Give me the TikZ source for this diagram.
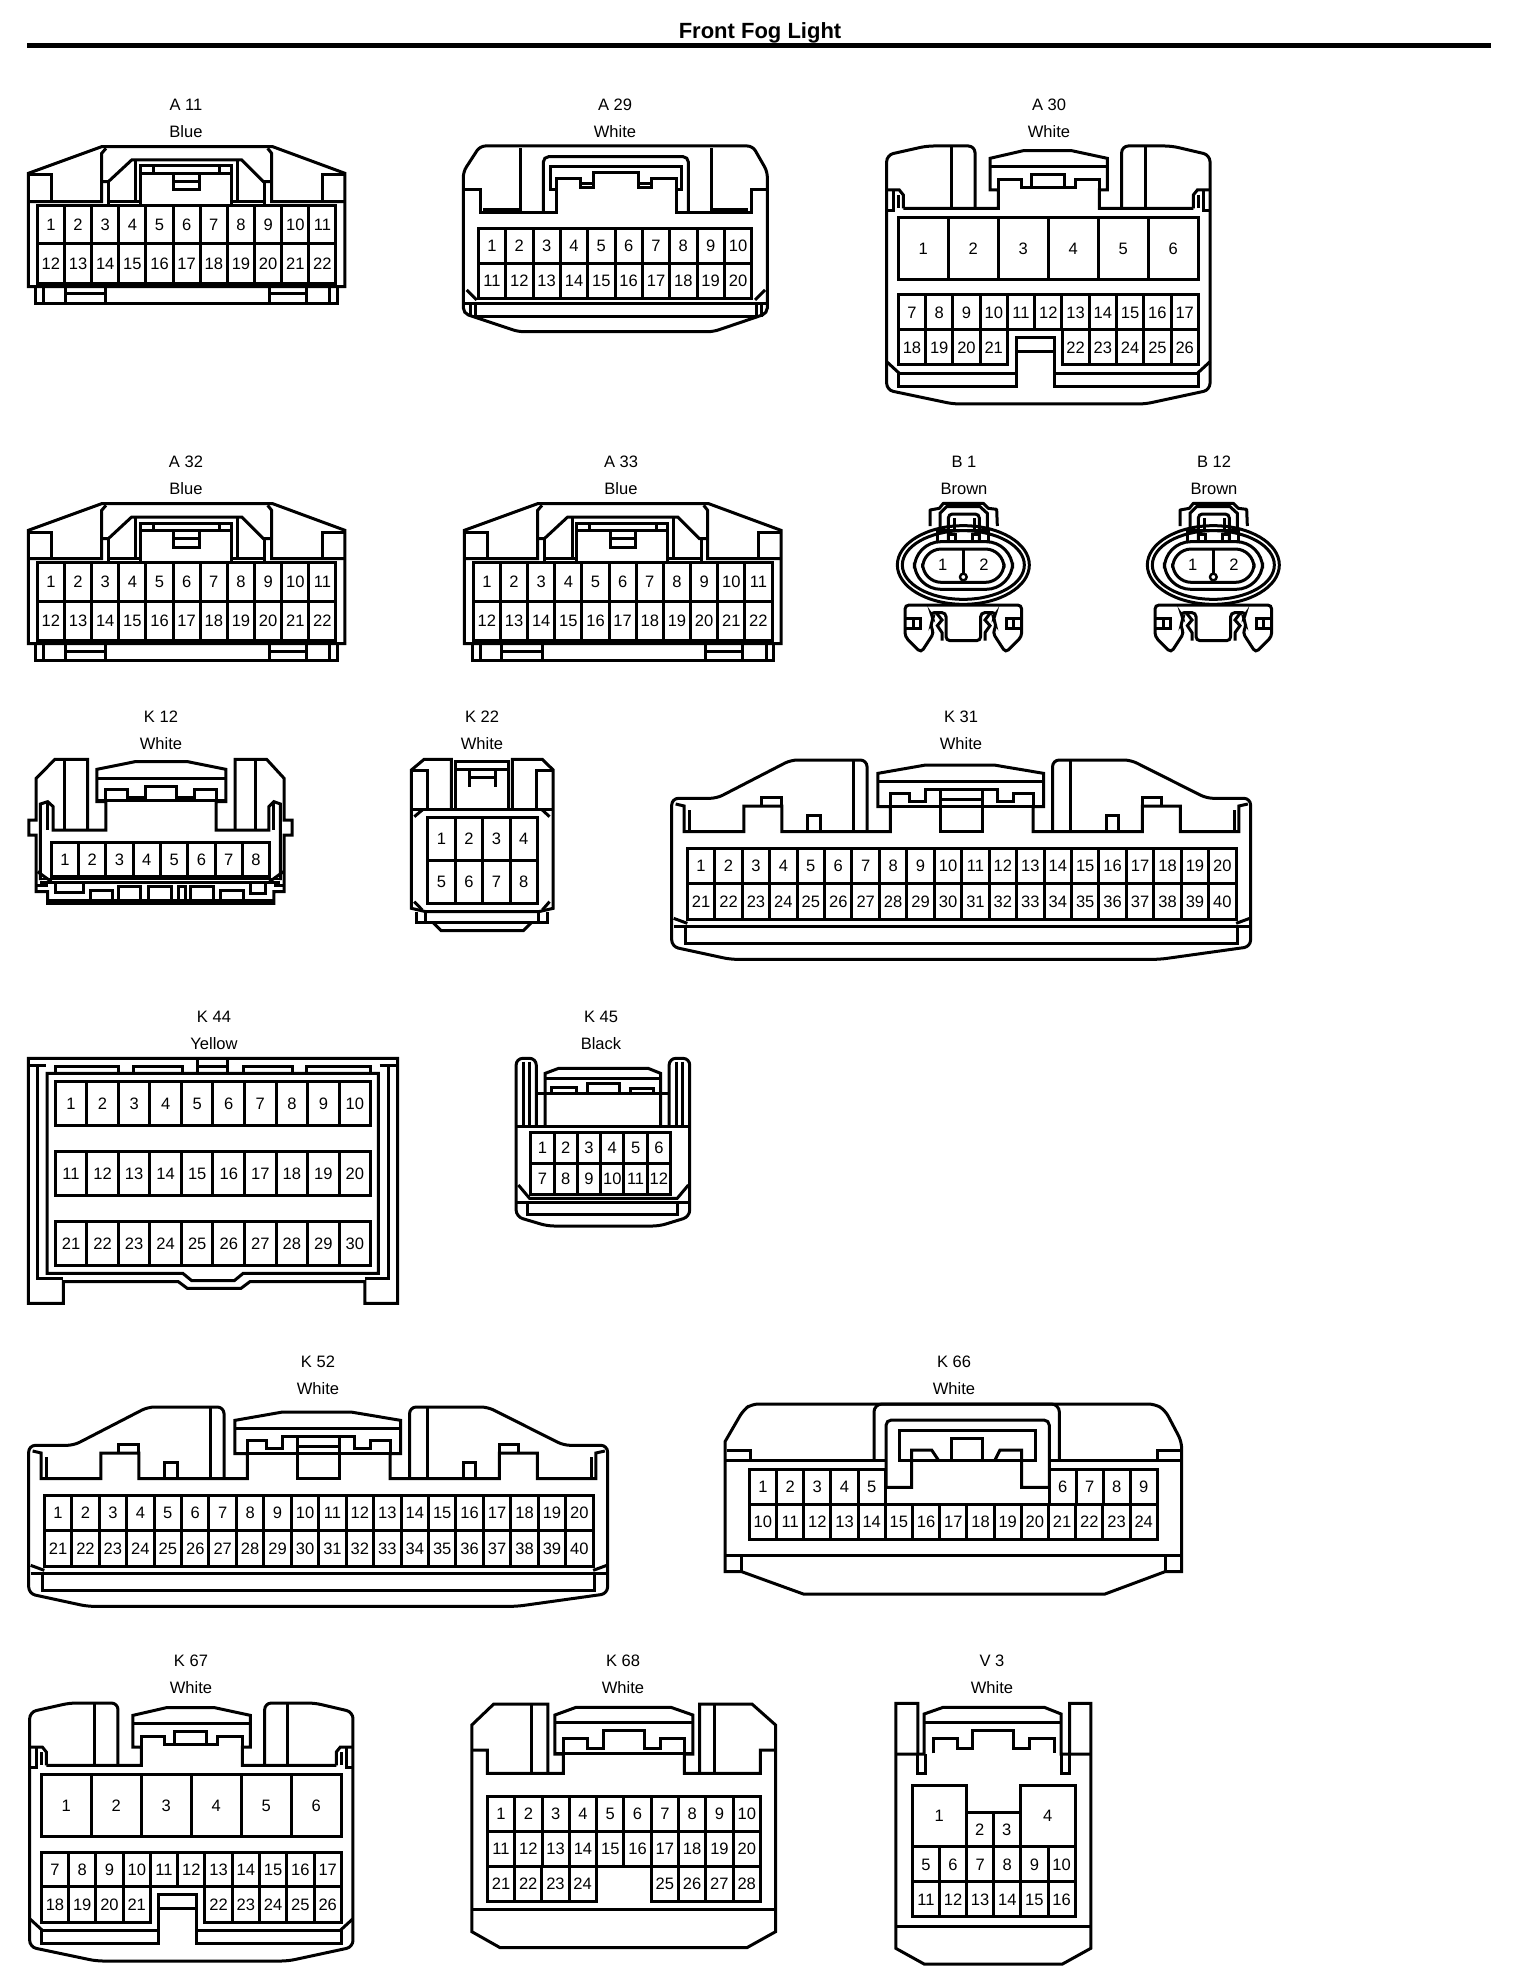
\documentclass[tikz,border=0pt]{standalone}
\usepackage{fontspec}
\setmainfont{Liberation Sans}
\tikzset{
	wall/.style={draw, line width=2.25pt, line join=miter},
	cavnum/.style={font=\fontsize{12.4}{14}\selectfont, inner sep=0pt, text height=8.9pt, text depth=0pt},
	capname/.style={font=\fontsize{12.4}{14}\selectfont, inner sep=0pt, text height=9pt, text depth=2.6pt},
	headline/.style={font=\bfseries\fontsize{16.5}{18}\selectfont, inner sep=0pt},
	headrule/.style={draw, line width=4pt}
}
% one cavity: name, x0, y0, x1, y1, number
\newcommand{\cavcell}[6]{
	\draw[wall] (#2,#3) rectangle (#4,#5);
	\node[cavnum] (#1-#6) at ({(#2+#4)/2},{(#3+#5)/2}) {#6};
}
% row of cavities: name, x0, y0, x1, y1, first number, count
\newcommand{\cavrow}[7]{
	\foreach \i in {1,...,#7} {
		\pgfmathsetmacro{\xa}{#2+(\i-1)*((#4-#2)/#7)}
		\pgfmathsetmacro{\xb}{#2+\i*((#4-#2)/#7)}
		\pgfmathtruncatemacro{\num}{#6+\i-1}
		\cavcell{#1}{\xa}{#3}{\xb}{#5}{\num}
	}
}
% two caption lines: name, x, y, code, colour
\newcommand{\conncap}[5]{
	\node[capname] (#1-code) at (#2,#3) {#4};
	\node[capname] (#1-colour) at (#2,#3+27) {#5};
}
% 22 way housing
\newcommand{\housingW}[3]{
	\begin{scope}[shift={(#2,#3)}, scale=1/3]
		\draw[wall] (85,860) -- (85,520) -- (305,440) -- (818,440) -- (1035,520) -- (1035,860) -- cycle;
		\draw[wall] (85,605) -- (305,605) -- (305,460) -- (318,445);
		\draw[wall] (1035,605) -- (815,605) -- (815,460) -- (803,445);
		\draw[wall] (88,525) -- (155,525) -- (155,605);
		\draw[wall] (1032,525) -- (968,525) -- (968,605);
		\draw[wall] (305,545) -- (325,545) -- (395,480) -- (725,480) -- (790,545) -- (815,545);
		\draw[wall] (325,545) -- (325,612);
		\draw[wall] (795,545) -- (795,612);
		\draw[wall] (408,480) -- (408,605);
		\draw[wall] (712,480) -- (712,605);
		\draw[wall] (330,605) -- (420,605);
		\draw[wall] (700,605) -- (795,605);
		\draw[wall] (422,612) -- (422,498) -- (695,498) -- (695,612);
		\draw[wall] (422,520) -- (695,520);
		\draw[wall] (460,498) -- (460,520);
		\draw[wall] (660,498) -- (660,520);
		\draw[wall] (522,520) -- (522,570) -- (598,570) -- (598,520);
		\draw[wall] (522,545) -- (598,545);
		\cavrow{#1}{112}{617}{1008}{732}{1}{11}
		\cavrow{#1}{112}{732}{1008}{850}{12}{11}
		\draw[wall] (108,860) -- (108,910) -- (1012,910) -- (1012,860);
		\draw[wall] (132,860) -- (132,908);
		\draw[wall] (990,860) -- (990,908);
		\draw[wall] (197,860) -- (197,908);
		\draw[wall] (318,860) -- (318,908);
		\draw[wall] (808,860) -- (808,908);
		\draw[wall] (920,860) -- (920,908);
		\draw[wall] (197,882) -- (318,882);
		\draw[wall] (808,882) -- (920,882);
	\end{scope}
}
% 26 way housing with six big cavities
\newcommand{\housingP}[3]{
	\begin{scope}[shift={(#2,#3)}, scale=1/3]
		\draw[wall, rounded corners=5pt] (345,385) -- (345,198) -- (200,198) -- (80,225) -- (80,930) -- (280,972) -- (855,972) -- (1050,930) -- (1050,225) -- (935,198) -- (785,198) -- (785,385);
		\draw[wall] (275,200) -- (275,385);
		\draw[wall] (855,200) -- (855,385);
		\draw[wall] (130,385) -- (415,385) -- (415,330) -- (390,330) -- (390,235) -- (490,212) -- (635,212) -- (742,235) -- (742,330) -- (718,330) -- (718,385) -- (1000,385);
		\draw[wall] (390,260) -- (742,260);
		\draw[wall] (415,330) -- (415,298) -- (485,298) -- (485,322) -- (645,322) -- (645,298) -- (718,298) -- (718,330);
		\draw[wall] (515,322) -- (515,283) -- (612,283) -- (612,322);
		\draw[wall] (80,330) -- (118,330) -- (130,345) -- (130,385);
		\draw[wall] (1050,330) -- (1012,330) -- (1000,345) -- (1000,385);
		\draw[wall] (100,330) -- (100,392) -- (80,392);
		\draw[wall] (1030,330) -- (1030,392) -- (1050,392);
		\draw[wall] (115,345) -- (115,385);
		\draw[wall] (1015,345) -- (1015,385);
		\cavrow{#1}{115}{412}{1015}{598}{1}{6}
		\cavrow{#1}{115}{645}{1015}{748}{7}{11}
		\cavrow{#1}{115}{748}{442}{855}{18}{4}
		\cavrow{#1}{606}{748}{1015}{855}{22}{5}
		\draw[wall] (468,855) -- (468,772) -- (582,772) -- (582,855);
		\draw[wall] (468,815) -- (582,815);
		\draw[wall] (468,850) -- (468,920) -- (115,920) -- (115,880) -- (468,880);
		\draw[wall] (582,850) -- (582,920) -- (1015,920) -- (1015,880) -- (582,880);
		\draw[wall] (80,845) -- (118,880);
		\draw[wall] (1050,845) -- (1012,880);
	\end{scope}
}
% 2 way round housing
\newcommand{\housingO}[3]{
	\begin{scope}[shift={(#2,#3)}, scale=1/3]
		\draw[wall, fill=white] (310,345) ellipse [x radius=198, y radius=118];
		\draw[wall] (310,345) ellipse [x radius=183, y radius=103];
		\draw[wall, rounded corners=20pt] (163,275) rectangle (458,418);
		\draw[wall, rounded corners=14pt] (188,297) rectangle (432,397);
		\draw[wall, line width=1.8pt] (310,300) -- (310,370);
		\draw[wall, line width=1.8pt] (310,381) circle [radius=10];
		\node[cavnum] (#1-1) at (248,345) {1};
		\node[cavnum] (#1-2) at (372,345) {2};
		\draw[wall, line join=round] (210,228) -- (210,180) -- (238,175) -- (250,160) -- (370,160) -- (385,175) -- (410,178) -- (412,228);
		\draw[wall] (240,235) -- (240,190) -- (260,170) -- (360,170) -- (382,190) -- (382,235);
		\draw[wall, rounded corners=3pt] (265,272) -- (265,192) -- (358,192) -- (358,272);
		\draw[wall] (282,205) -- (282,242) -- (342,242) -- (342,205);
		\draw[wall] (232,275) -- (232,242) -- (385,242) -- (385,275);
		\draw[wall] (265,252) -- (285,252) -- (285,272);
		\draw[wall] (358,252) -- (337,252) -- (337,272);
		\draw[wall, fill=white, rounded corners=3pt] (135,560) -- (135,465) -- (485,465) -- (485,560) -- (437,608) -- (398,548) -- (410,525) -- (398,505) -- (410,488) -- (362,488) -- (362,572) -- (258,572) -- (258,488) -- (210,488) -- (222,505) -- (210,525) -- (222,548) -- (183,608) -- cycle;
		\draw[wall] (230,490) -- (246,510) -- (232,527) -- (246,548) -- (246,572);
		\draw[wall] (390,490) -- (375,510) -- (390,527) -- (375,548) -- (375,572);
		\draw[wall] (137,505) -- (180,505) -- (180,535) -- (137,535);
		\draw[wall] (160,505) -- (160,535);
		\draw[wall] (483,505) -- (440,505) -- (440,535) -- (483,535);
		\draw[wall] (460,505) -- (460,535);
	\end{scope}
}
% 40 way housing
\newcommand{\housingL}[3]{
	\begin{scope}[shift={(#2,#3)}, xscale=1/2.56, yscale=1/3]
		\draw[wall, rounded corners=5pt] (530,305) -- (530,90) -- (335,90) -- (145,205) -- (30,205) -- (30,650) -- (180,688) -- (1280,688) -- (1512,650) -- (1512,205) -- (1400,205) -- (1205,90) -- (1005,90) -- (1005,305);
		\draw[wall] (495,90) -- (495,305);
		\draw[wall] (1050,90) -- (1050,305);
		\draw[wall] (40,222) -- (62,228) -- (62,305) -- (215,305) -- (215,228) -- (312,228) -- (312,305) -- (590,305) -- (590,230) -- (558,230) -- (558,130) -- (680,105) -- (855,105) -- (982,130) -- (982,230) -- (955,230) -- (955,305) -- (1235,305) -- (1235,228) -- (1332,228) -- (1332,305) -- (1482,305) -- (1482,228) -- (1505,222);
		\draw[wall] (75,240) -- (75,300);
		\draw[wall] (1470,240) -- (1470,300);
		\draw[wall] (260,228) -- (260,202) -- (312,202) -- (312,228);
		\draw[wall] (1235,228) -- (1235,202) -- (1285,202) -- (1285,228);
		\draw[wall] (378,305) -- (378,255) -- (412,255) -- (412,305);
		\draw[wall] (1142,305) -- (1142,255) -- (1175,255) -- (1175,305);
		\draw[wall] (558,155) -- (982,155);
		\draw[wall] (558,228) -- (982,228);
		\draw[wall] (590,228) -- (590,190) -- (640,190) -- (640,215) -- (680,215) -- (680,178) -- (865,178) -- (865,215) -- (905,215) -- (905,190) -- (955,190) -- (955,228);
		\draw[wall] (718,178) -- (718,305) -- (825,305) -- (825,178);
		\draw[wall] (718,208) -- (825,208);
		\cavrow{#1}{70}{355}{1475}{460}{1}{20}
		\cavrow{#1}{70}{460}{1475}{568}{21}{20}
		\draw[wall] (35,565) -- (70,580);
		\draw[wall] (1510,565) -- (1475,580);
		\draw[wall] (35,590) -- (1510,590);
		\draw[wall] (65,595) -- (65,640) -- (1478,640) -- (1478,595);
	\end{scope}
}
\begin{document}
\begin{tikzpicture}[x=.75pt, y=-.75pt]
	\useasboundingbox (0,0) rectangle (1520,1980);
	
	\node[headline] (title) at (760,33) {Front Fog Light};
	\coordinate (ruleL) at (27,45.3);
	\coordinate (ruleR) at (1491,45.3);
	\draw[headrule] (ruleL) -- (ruleR);
	
	%========================================================================
	% Captions
	\conncap{A11}{186}{106}{A 11}{Blue}
	\conncap{A29}{615}{106}{A 29}{White}
	\conncap{A30}{1049}{106}{A 30}{White}
	\conncap{A32}{186}{463}{A 32}{Blue}
	\conncap{A33}{621}{463}{A 33}{Blue}
	\conncap{B1}{964}{463}{B 1}{Brown}
	\conncap{B12}{1214}{463}{B 12}{Brown}
	\conncap{K12}{161}{718}{K 12}{White}
	\conncap{K22}{482}{718}{K 22}{White}
	\conncap{K31}{961}{718}{K 31}{White}
	\conncap{K44}{214}{1018}{K 44}{Yellow}
	\conncap{K45}{601}{1018}{K 45}{Black}
	\conncap{K52}{318}{1363}{K 52}{White}
	\conncap{K66}{954}{1363}{K 66}{White}
	\conncap{K67}{191}{1662}{K 67}{White}
	\conncap{K68}{623}{1662}{K 68}{White}
	\conncap{V3}{992}{1662}{V 3}{White}
	
	%========================================================================
	% Housings drawn more than once
	\housingW{A11}{0}{0}
	\housingW{A32}{0}{357}
	\housingW{A33}{436}{357}
	\housingP{A30}{860}{80}
	\housingP{K67}{3}{1637}
	\housingO{B1}{860}{450}
	\housingO{B12}{1110}{450}
	\housingL{K31}{660}{730}
	\housingL{K52}{17}{1377}
	
	%========================================================================
	% A 29
	\begin{scope}[shift={(450,130)}, scale=1/3]
		\draw[wall, rounded corners=4pt] (40,125) -- (90,48) -- (908,48) -- (952,125) -- (952,550) -- (790,605) -- (205,605) -- (40,550) -- cycle;
		\draw[wall] (40,178) -- (92,178) -- (92,248) -- (318,248) -- (318,145) -- (390,145) -- (390,172) -- (430,172) -- (430,128) -- (565,128) -- (565,172) -- (605,172) -- (605,145) -- (678,145) -- (678,248) -- (905,248) -- (905,178) -- (952,178);
		\draw[wall] (212,55) -- (212,248);
		\draw[wall] (785,55) -- (785,248);
		\draw[wall] (100,240) -- (212,240);
		\draw[wall] (785,240) -- (893,240);
		\draw[wall, rounded corners=4pt] (280,248) -- (280,80) -- (715,80) -- (715,248);
		\draw[wall] (318,178) -- (300,178) -- (300,110) -- (695,110) -- (695,178) -- (678,178);
		\draw[wall] (390,160) -- (430,160);
		\draw[wall] (565,160) -- (605,160);
		\cavrow{A29}{85}{295}{905}{400}{1}{10}
		\cavrow{A29}{85}{400}{905}{505}{11}{10}
		\draw[wall] (50,480) -- (80,510);
		\draw[wall] (945,480) -- (915,510);
		\draw[wall] (42,520) -- (950,520);
		\draw[wall] (75,525) -- (75,560) -- (920,560) -- (920,525);
		\draw[wall] (60,525) -- (60,560);
		\draw[wall] (935,525) -- (935,560);
	\end{scope}
	
	%========================================================================
	% K 12 and K 22
	\begin{scope}[shift={(15,700)}, xscale=1/2.75, yscale=1/3]
		\draw[wall] (200,390) -- (200,178) -- (110,178) -- (58,235) -- (58,360) -- (38,360) -- (38,405) -- (58,405) -- (58,575) -- (90,575) -- (90,610) -- (712,610) -- (712,575) -- (740,575) -- (740,405) -- (762,405) -- (762,360) -- (740,360) -- (740,235) -- (692,178) -- (605,178) -- (605,390);
		\draw[wall] (135,178) -- (135,390);
		\draw[wall] (662,178) -- (662,390);
		\draw[wall] (70,540) -- (70,312) -- (90,305) -- (105,320) -- (105,390) -- (250,390) -- (250,305) -- (225,305) -- (225,208) -- (330,185) -- (475,185) -- (580,208) -- (580,305) -- (553,305) -- (553,390) -- (698,390) -- (698,320) -- (712,305) -- (730,312) -- (730,540);
		\draw[wall] (88,310) -- (88,390);
		\draw[wall] (712,310) -- (712,390);
		\draw[wall] (225,235) -- (580,235);
		\draw[wall] (225,302) -- (580,302);
		\draw[wall] (250,302) -- (250,268) -- (310,268) -- (310,292) -- (358,292) -- (358,258) -- (445,258) -- (445,292) -- (493,292) -- (493,268) -- (553,268) -- (553,302);
		\cavrow{K12}{100}{428}{700}{530}{1}{8}
		\draw[wall] (62,515) -- (100,545);
		\draw[wall] (738,515) -- (700,545);
		\draw[line width=1.2pt] (70,537) -- (730,537);
		\draw[wall] (70,547) -- (730,547);
		\draw[wall] (60,555) -- (90,555);
		\draw[wall] (712,555) -- (738,555);
		\draw[wall] (90,600) -- (712,600);
		\draw[wall] (112,550) -- (112,578) -- (188,578) -- (188,550);
		\draw[wall] (208,600) -- (208,570) -- (268,570) -- (268,600);
		\draw[wall] (285,600) -- (285,558) -- (345,558) -- (345,600);
		\draw[wall] (368,600) -- (368,558) -- (430,558) -- (430,600);
		\draw[wall] (450,600) -- (450,558) -- (470,558) -- (470,600);
		\draw[wall] (482,600) -- (482,558) -- (545,558) -- (545,600);
		\draw[wall] (565,600) -- (565,570) -- (628,570) -- (628,600);
		\draw[wall] (648,550) -- (648,580) -- (690,580) -- (690,550);
		
		\draw[wall] (1200,325) -- (1200,178) -- (1125,178) -- (1090,210) -- (1090,625) -- (1130,635) -- (1440,635) -- (1480,625) -- (1480,210) -- (1450,178) -- (1368,178) -- (1368,325);
		\draw[wall] (1092,212) -- (1135,212) -- (1135,325);
		\draw[wall] (1478,212) -- (1435,212) -- (1435,325);
		\draw[wall] (1210,325) -- (1210,185) -- (1358,185) -- (1358,325);
		\draw[wall] (1210,208) -- (1358,208);
		\draw[wall] (1250,208) -- (1250,262);
		\draw[wall] (1320,208) -- (1320,262);
		\draw[wall] (1250,232) -- (1320,232);
		\draw[wall] (1090,328) -- (1480,328);
		\draw[wall] (1098,350) -- (1120,330);
		\draw[wall] (1470,350) -- (1450,330);
		\draw[wall] (1098,605) -- (1120,630);
		\draw[wall] (1470,605) -- (1450,630);
		\cavrow{K22}{1135}{352}{1437}{480}{1}{4}
		\cavrow{K22}{1135}{480}{1437}{610}{5}{4}
		\draw[wall] (1105,635) -- (1105,668) -- (1465,668) -- (1465,635);
		\draw[wall] (1130,635) -- (1130,668);
		\draw[wall] (1440,635) -- (1440,668);
		\draw[wall] (1150,668) -- (1172,692) -- (1398,692) -- (1420,668);
	\end{scope}
	
	%========================================================================
	% K 44 and K 45
	\begin{scope}[shift={(15,1040)}, xscale=1/2.235, yscale=1/3]
		\draw[wall] (30,55) -- (855,55) -- (855,790) -- (782,790) -- (782,725) -- (525,725) -- (505,745) -- (385,745) -- (365,725) -- (108,725) -- (108,790) -- (30,790) -- cycle;
		\draw[wall] (30,75) -- (70,75);
		\draw[wall] (815,75) -- (855,75);
		\draw[wall] (50,75) -- (50,720);
		\draw[wall] (835,75) -- (835,720);
		\draw[wall] (50,716) -- (108,716);
		\draw[wall] (782,716) -- (835,716);
		\draw[wall] (72,100) -- (812,100) -- (812,700) -- (510,700) -- (490,722) -- (395,722) -- (375,700) -- (72,700) -- cycle;
		\draw[wall] (90,100) -- (90,78) -- (232,78) -- (232,100);
		\draw[wall] (265,100) -- (265,78) -- (375,78) -- (375,100);
		\draw[wall] (408,100) -- (408,60);
		\draw[wall] (475,100) -- (475,60);
		\draw[wall] (408,78) -- (475,78);
		\draw[wall] (510,100) -- (510,78) -- (620,78) -- (620,100);
		\draw[wall] (652,100) -- (652,78) -- (795,78) -- (795,100);
		\cavrow{K44}{90}{125}{795}{255}{1}{10}
		\cavrow{K44}{90}{335}{795}{465}{11}{10}
		\cavrow{K44}{90}{545}{795}{675}{21}{10}
		
		\draw[wall, rounded corners=5pt] (1165,255) -- (1165,55) -- (1120,55) -- (1120,530) -- (1190,558) -- (1440,558) -- (1508,530) -- (1508,55) -- (1462,55) -- (1462,255);
		\draw[wall] (1137,65) -- (1137,258);
		\draw[wall] (1150,65) -- (1150,258);
		\draw[wall] (1478,65) -- (1478,258);
		\draw[wall] (1492,65) -- (1492,258);
		\draw[wall] (1120,258) -- (1508,258);
		\draw[wall] (1185,258) -- (1185,100) -- (1215,85) -- (1415,85) -- (1443,100) -- (1443,258);
		\draw[wall] (1185,115) -- (1443,115);
		\draw[wall] (1165,160) -- (1462,160);
		\draw[wall] (1200,160) -- (1200,142) -- (1255,142) -- (1255,160);
		\draw[wall] (1280,160) -- (1280,130) -- (1350,130) -- (1350,160);
		\draw[wall] (1375,160) -- (1375,145) -- (1428,145) -- (1428,160);
		\cavrow{K45}{1153}{278}{1465}{370}{1}{6}
		\cavrow{K45}{1153}{370}{1465}{462}{7}{6}
		\draw[wall] (1125,435) -- (1150,475) -- (1480,475) -- (1505,435);
		\draw[wall] (1122,488) -- (1506,488);
		\draw[wall] (1145,490) -- (1145,522) -- (1480,522) -- (1480,490);
	\end{scope}
	
	%========================================================================
	% K 66
	\begin{scope}[shift={(710,1380)}, scale=1/3]
		\draw[wall, rounded corners=5pt] (45,185) -- (100,90) -- (125,72) -- (1335,72) -- (1365,90) -- (1415,185) [sharp corners] -- (1415,575) -- (1365,575) -- (1185,642) -- (280,642) -- (95,575) -- (45,575) -- cycle;
		\draw[wall] (45,242) -- (525,242);
		\draw[wall] (1015,242) -- (1415,242);
		\draw[wall] (50,210) -- (120,210) -- (120,242);
		\draw[wall] (1410,210) -- (1342,210) -- (1342,242);
		\draw[wall, rounded corners=6pt] (492,242) -- (492,72) -- (1048,72) -- (1048,242);
		\draw[wall, rounded corners=4pt] (528,322) -- (528,120) -- (1018,120) -- (1018,322);
		\draw[wall] (568,242) -- (568,152) -- (975,152) -- (975,242) -- cycle;
		\draw[wall] (528,322) -- (605,322) -- (605,210) -- (665,210) -- (685,240);
		\draw[wall] (1018,322) -- (935,322) -- (935,210) -- (870,210) -- (855,240);
		\draw[wall] (725,240) -- (725,175) -- (818,175) -- (818,240);
		\cavrow{K66}{118}{268}{526}{372}{1}{5}
		\cavrow{K66}{1018}{268}{1342}{372}{6}{4}
		\cavrow{K66}{118}{372}{1342}{478}{10}{15}
		\draw[wall] (45,525) -- (1415,525);
		\draw[wall] (95,530) -- (95,575);
		\draw[wall] (1365,530) -- (1365,575);
	\end{scope}
	
	%========================================================================
	% K 68 and V 3
	\begin{scope}[shift={(460,1680)}, xscale=1/2.37, yscale=1/3]
		\draw[wall] (208,280) -- (208,72) -- (80,72) -- (28,135) -- (28,755) -- (95,803) -- (680,803) -- (748,755) -- (748,135) -- (692,72) -- (568,72) -- (568,280);
		\draw[wall] (170,72) -- (170,280);
		\draw[wall] (603,72) -- (603,280);
		\draw[wall] (28,210) -- (65,210) -- (65,280) -- (245,280) -- (245,222) -- (225,222) -- (225,105) -- (275,82) -- (500,82) -- (552,105) -- (552,222) -- (532,222) -- (532,280) -- (712,280) -- (712,210) -- (748,210);
		\draw[wall] (225,128) -- (552,128);
		\draw[wall] (225,220) -- (552,220);
		\draw[wall] (245,220) -- (245,175) -- (302,175) -- (302,205) -- (340,205) -- (340,152) -- (438,152) -- (438,205) -- (475,205) -- (475,175) -- (532,175) -- (532,220);
		\cavrow{K68}{65}{350}{712}{453}{1}{10}
		\cavrow{K68}{65}{453}{712}{560}{11}{10}
		\cavrow{K68}{65}{560}{323}{663}{21}{4}
		\cavrow{K68}{453}{560}{712}{663}{25}{4}
		\draw[wall] (28,688) -- (748,688);
		
		\draw[wall] (1085,222) -- (1085,70) -- (1033,70) -- (1033,805) -- (1100,852) -- (1428,852) -- (1495,805) -- (1495,70) -- (1445,70) -- (1445,222);
		\draw[wall] (1033,222) -- (1100,222) -- (1100,102) -- (1145,82) -- (1385,82) -- (1425,102) -- (1425,222) -- (1495,222);
		\draw[wall] (1085,222) -- (1085,280) -- (1103,280) -- (1103,222);
		\draw[wall] (1425,222) -- (1425,280) -- (1445,280) -- (1445,222);
		\draw[wall] (1100,128) -- (1425,128);
		\draw[wall] (1122,220) -- (1122,175) -- (1178,175) -- (1178,205) -- (1215,205) -- (1215,152) -- (1312,152) -- (1312,205) -- (1350,205) -- (1350,175) -- (1408,175) -- (1408,220);
		\cavcell{V3}{1072}{315}{1200}{500}{1}
		\cavrow{V3}{1200}{398}{1328}{500}{2}{2}
		\cavcell{V3}{1328}{315}{1458}{500}{4}
		\cavrow{V3}{1072}{500}{1458}{605}{5}{6}
		\cavrow{V3}{1072}{605}{1458}{710}{11}{6}
		\draw[wall] (1033,738) -- (1495,738);
	\end{scope}
\end{tikzpicture}
\end{document}
